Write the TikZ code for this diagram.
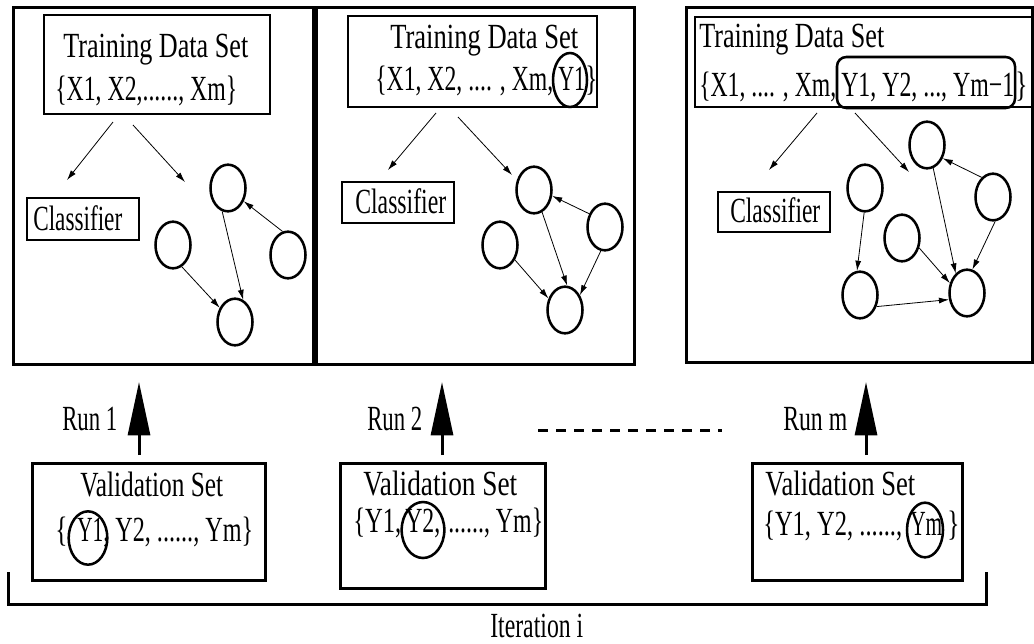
\documentclass[tikz,border=0pt]{standalone}
\usepackage{fontspec}
\usepackage{graphicx}
\setmainfont{Liberation Serif}[FakeStretch=0.72]
\usetikzlibrary{arrows.meta,shapes.geometric}
\newcommand{\fs}{\fontsize{26.5}{30}\selectfont}
% set text #2 to a width of #1 px, natural height
\newcommand{\tw}[2]{\resizebox{\dimexpr0.75pt*#1\relax}{\height}{#2}}
\begin{document}
\begin{tikzpicture}[x=0.75pt,y=-0.75pt,
  txt/.style={inner sep=0pt,font=\fs,anchor=base west},
  panel/.style={draw,line width=2.25pt},
  thinbox/.style={draw,line width=0.8pt},
  vnode/.style={draw,ellipse,line width=1.9pt,minimum width=26.25pt,minimum height=35pt,inner sep=0pt},
  edge/.style={line width=0.6pt,-{Latex[length=7.5pt,width=4.5pt]}},
  big/.style={line width=2.25pt,-{Triangle[length=40pt,width=16.5pt]}},
  ring/.style={draw,ellipse,line width=1.9pt,inner sep=0pt},
]
\useasboundingbox (0,0) rectangle (1034,643);
% ---------- panels
\draw[panel] (13,7) rectangle (313,364);
\draw[panel] (316,7) rectangle (634,364);
\draw[panel] (686,7) rectangle (1032,362);
% ---------- panel 1
\draw[thinbox] (44,15) rectangle (270,114);
\node[txt] (p1t1) at (63,57) {\tw{185}{Training Data Set}};
\node[txt] (p1t2) at (55,100) {\tw{182}{\{X1, X2,......, Xm\}}};
\draw[thinbox] (27,198) rectangle (139,240);
\node[txt] (p1cl) at (33,230) {\tw{89}{Classifier}};
\coordinate (p1a1s) at (113,122); \coordinate (p1a1e) at (67,180);
\coordinate (p1a2s) at (133,125); \coordinate (p1a2e) at (185,182);
\draw[edge] (p1a1s) -- (p1a1e);
\draw[edge] (p1a2s) -- (p1a2e);
\node[vnode] (p1A) at (228,188) {};
\node[vnode] (p1B) at (173,245) {};
\node[vnode] (p1C) at (288,255) {};
\node[vnode] (p1D) at (235,322) {};
\draw[edge] (p1A.256) -- (p1D.70);
\draw[edge] (p1C.103) -- (p1A.-40);
\draw[edge] (p1B.-68) -- (p1D.137);
% ---------- panel 2
\draw[thinbox] (348,16) rectangle (597,107);
\node[txt] (p2t1) at (390,48) {\tw{188}{Training Data Set}};
\node[txt] (p2t2) at (375,90) {\tw{178}{\{X1, X2, .... , Xm,}};
\node[txt] (p2y) at (558,90) {\tw{27}{Y1}};
\node[txt] (p2t3) at (585,90) {\}};
\node[ring,minimum width=25.5pt,minimum height=40.5pt] (p2r) at (570,80) {};
\draw[thinbox] (342,182) rectangle (454,223);
\node[txt] (p2cl) at (355,213) {\tw{91}{Classifier}};
\coordinate (p2a1s) at (436,113); \coordinate (p2a1e) at (388,170);
\coordinate (p2a2s) at (458,117); \coordinate (p2a2e) at (512,175);
\draw[edge] (p2a1s) -- (p2a1e);
\draw[edge] (p2a2s) -- (p2a2e);
\node[vnode] (p2A) at (534,190) {};
\node[vnode] (p2B) at (500,245) {};
\node[vnode] (p2C) at (605,227) {};
\node[vnode] (p2D) at (565,310) {};
\draw[edge] (p2C.140) -- (p2A.-18);
\draw[edge] (p2A.-70) -- (p2D.85);
\draw[edge] (p2B.-45) -- (p2D.145);
\draw[edge] (p2C.-100) -- (p2D.45);
% ---------- panel 3
\draw[thinbox] (695,17) rectangle (1032,107);
\node[txt] (p3t1) at (699,47) {\tw{185}{Training Data Set}};
\node[txt] (p3t2) at (699,96) {\tw{137}{\{X1, .... , Xm,}};
\node[txt] (p3y) at (841,96) {\tw{173}{Y1, Y2, ..., Ym−1}};
\node[txt] (p3t3) at (1015,96) {\}};
\draw[line width=1.9pt,rounded corners=7pt] (837,57) rectangle (1015,108);
\draw[thinbox] (718,192) rectangle (830,232);
\node[txt] (p3cl) at (730,222) {\tw{90}{Classifier}};
\coordinate (p3a1s) at (817,113); \coordinate (p3a1e) at (769,170);
\coordinate (p3a2s) at (855,113); \coordinate (p3a2e) at (909,172);
\draw[edge] (p3a1s) -- (p3a1e);
\draw[edge] (p3a2s) -- (p3a2e);
\node[vnode] (p3A) at (927,145) {};
\node[vnode] (p3R) at (993,197) {};
\node[vnode] (p3L) at (865,188) {};
\node[vnode] (p3M) at (902,238) {};
\node[vnode] (p3BL) at (860,295) {};
\node[vnode] (p3BR) at (967,293) {};
\draw[edge] (p3R.120) -- (p3A.-40);
\draw[edge] (p3A.-75) -- (p3BR.120);
\draw[edge] (p3R.-85) -- (p3BR.77);
\draw[edge] (p3M.-30) -- (p3BR.150);
\draw[edge] (p3L.-92) -- (p3BL.97);
\draw[edge] (p3BL.-35) -- (p3BR.-160);
% ---------- runs
\node[txt] (run1) at (62,430) {\tw{55}{Run 1}};
\node[txt] (run2) at (367,430) {\tw{55}{Run 2}};
\node[txt] (runm) at (783,430) {\tw{64}{Run m}};
\coordinate (r1s) at (139,455); \coordinate (r1e) at (139,382);
\coordinate (r2s) at (442,455); \coordinate (r2e) at (442,382);
\coordinate (r3s) at (866,455); \coordinate (r3e) at (866,382);
\draw[big] (r1s) -- (r1e);
\draw[big] (r2s) -- (r2e);
\draw[big] (r3s) -- (r3e);
\coordinate (ds) at (538,430); \coordinate (de) at (722,430);
\draw[line width=2.25pt,dash pattern=on 7.5pt off 6pt] (ds) -- (de);
% ---------- validation sets
\draw[panel] (32,463) rectangle (265,580);
\node[txt] (v1t) at (80,496) {\tw{143}{Validation Set}};
\node[txt] (v1a) at (55,541) {\{};
\node[txt] (v1y) at (77,541) {\tw{26}{Y1}};
\node[txt] (v1b) at (103,541) {\tw{150}{, Y2, ......, Ym\}}};
\node[ring,minimum width=29pt,minimum height=40pt] (v1r) at (88,538) {};
\draw[panel] (340,463) rectangle (545,588);
\node[txt] (v2t) at (363,495) {\tw{154}{Validation Set}};
\node[txt] (v2a) at (353,532) {\tw{48}{\{Y1,}};
\node[txt] (v2y) at (405,532) {\tw{35}{Y2,}};
\node[txt] (v2b) at (448,532) {\tw{95}{......, Ym\}}};
\node[ring,minimum width=32pt,minimum height=42pt] (v2r) at (423,530) {};
\draw[panel] (752,463) rectangle (962,580);
\node[txt] (v3t) at (765,495) {\tw{150}{Validation Set}};
\node[txt] (v3a) at (763,535) {\tw{139}{\{Y1, Y2, ......,}};
\node[txt] (v3y) at (910,535) {\tw{32}{Ym}};
\node[txt] (v3b) at (947,535) {\}};
\node[ring,minimum width=27pt,minimum height=41pt] (v3r) at (925,530) {};
% ---------- iteration bracket
\coordinate (b1) at (8,572); \coordinate (b2) at (8,604);
\coordinate (b3) at (986,604); \coordinate (b4) at (986,572);
\draw[line width=2.25pt] (b1) -- (b2) -- (b3) -- (b4);
\node[txt] (iter) at (490,637) {\tw{93}{Iteration i}};
\end{tikzpicture}
\end{document}
